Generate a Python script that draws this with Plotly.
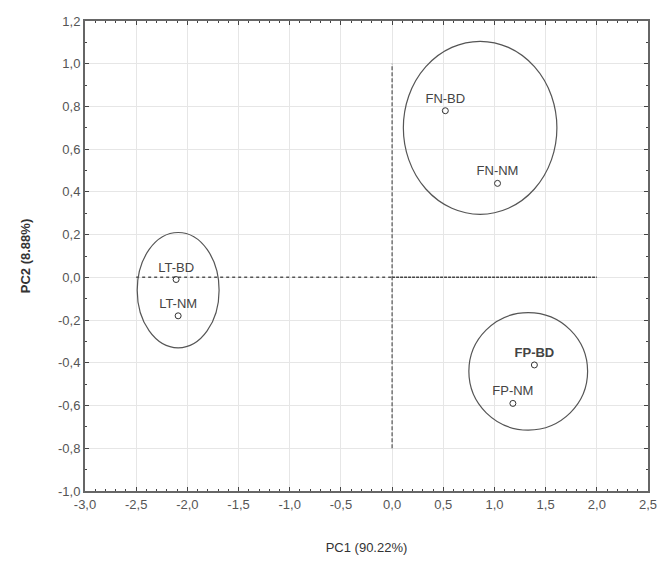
import plotly.graph_objects as go

# Data
labels = ["LT-BD", "LT-NM", "FN-BD", "FN-NM", "FP-BD", "FP-NM"]
pc1 = [-2.11, -2.09, 0.52, 1.03, 1.39, 1.18]
pc2 = [-0.01, -0.18, 0.78, 0.44, -0.41, -0.59]
label_weight = ["normal", "normal", "normal", "normal", "bold", "normal"]

# Group ellipses (center x, center y, radius x, radius y)
ell_cx = [-2.09, 0.86, 1.33]
ell_cy = [-0.06, 0.70, -0.44]
ell_rx = [0.40, 0.75, 0.58]
ell_ry = [0.27, 0.405, 0.275]

x_ticks = [-3.0, -2.5, -2.0, -1.5, -1.0, -0.5, 0.0, 0.5, 1.0, 1.5, 2.0, 2.5]
x_ticktext = ["-3,0", "-2,5", "-2,0", "-1,5", "-1,0", "-0,5", "0,0", "0,5", "1,0", "1,5", "2,0", "2,5"]
y_ticks = [-1.0, -0.8, -0.6, -0.4, -0.2, 0.0, 0.2, 0.4, 0.6, 0.8, 1.0, 1.2]
y_ticktext = ["-1,0", "-0,8", "-0,6", "-0,4", "-0,2", "0,0", "0,2", "0,4", "0,6", "0,8", "1,0", "1,2"]

fig = go.Figure()

# reference lines
fig.add_trace(go.Scatter(x=[-2.5, 0.0], y=[0, 0], mode="lines",
                         line=dict(color="#555555", width=1.5, dash="dot"),
                         hoverinfo="skip", showlegend=False))
fig.add_trace(go.Scatter(x=[0.0, 2.0], y=[0, 0], mode="lines",
                         line=dict(color="#444444", width=1.5, dash="3px,1px"),
                         hoverinfo="skip", showlegend=False))
fig.add_trace(go.Scatter(x=[0, 0], y=[-0.8, 1.0], mode="lines",
                         line=dict(color="#555555", width=1.2, dash="4px,2px"),
                         hoverinfo="skip", showlegend=False))

for cx, cy, rx, ry in zip(ell_cx, ell_cy, ell_rx, ell_ry):
    fig.add_shape(type="circle", xref="x", yref="y",
                  x0=cx - rx, x1=cx + rx, y0=cy - ry, y1=cy + ry,
                  line=dict(color="#555555", width=1.2))

fig.add_trace(go.Scatter(
    x=pc1, y=pc2, mode="markers+text", text=labels,
    textposition="top center",
    textfont=dict(family="Liberation Sans, Arial", size=13, color="#444444",
                  weight=label_weight),
    marker=dict(symbol="circle-open", size=6, color="#333333", line=dict(width=1)),
    showlegend=False))

axis_common = dict(
    showline=True, linecolor="#666666", linewidth=2, mirror="ticks",
    ticks="inside", ticklen=4, tickcolor="#444444",
    showgrid=True, gridcolor="#e6e6e6", gridwidth=1, zeroline=False,
    tickfont=dict(family="Liberation Sans, Arial", size=13, color="#555555"),
    automargin=False,
)

fig.update_xaxes(range=[-3.0, 2.5], tickvals=x_ticks, ticktext=x_ticktext,
                 minor=dict(ticks="inside", dtick=0.1, ticklen=2, tickcolor="#444444", showgrid=False),
                 title=dict(text="PC1 (90.22%)", standoff=32,
                            font=dict(family="Liberation Sans, Arial", size=13, color="#333333")),
                 **axis_common)
fig.update_yaxes(range=[-1.0, 1.2], tickvals=y_ticks, ticktext=y_ticktext,
                 minor=dict(ticks="inside", dtick=0.1, ticklen=2, tickcolor="#444444", showgrid=False),
                 title=dict(text="<b>PC2 (8.88%)</b>", standoff=24,
                            font=dict(family="Liberation Sans, Arial", size=13, color="#333333")),
                 **axis_common)

fig.update_layout(
    width=661, height=561,
    margin=dict(l=85, r=13, t=21, b=70),
    plot_bgcolor="white", paper_bgcolor="white",
)

fig.write_html("out.html")
